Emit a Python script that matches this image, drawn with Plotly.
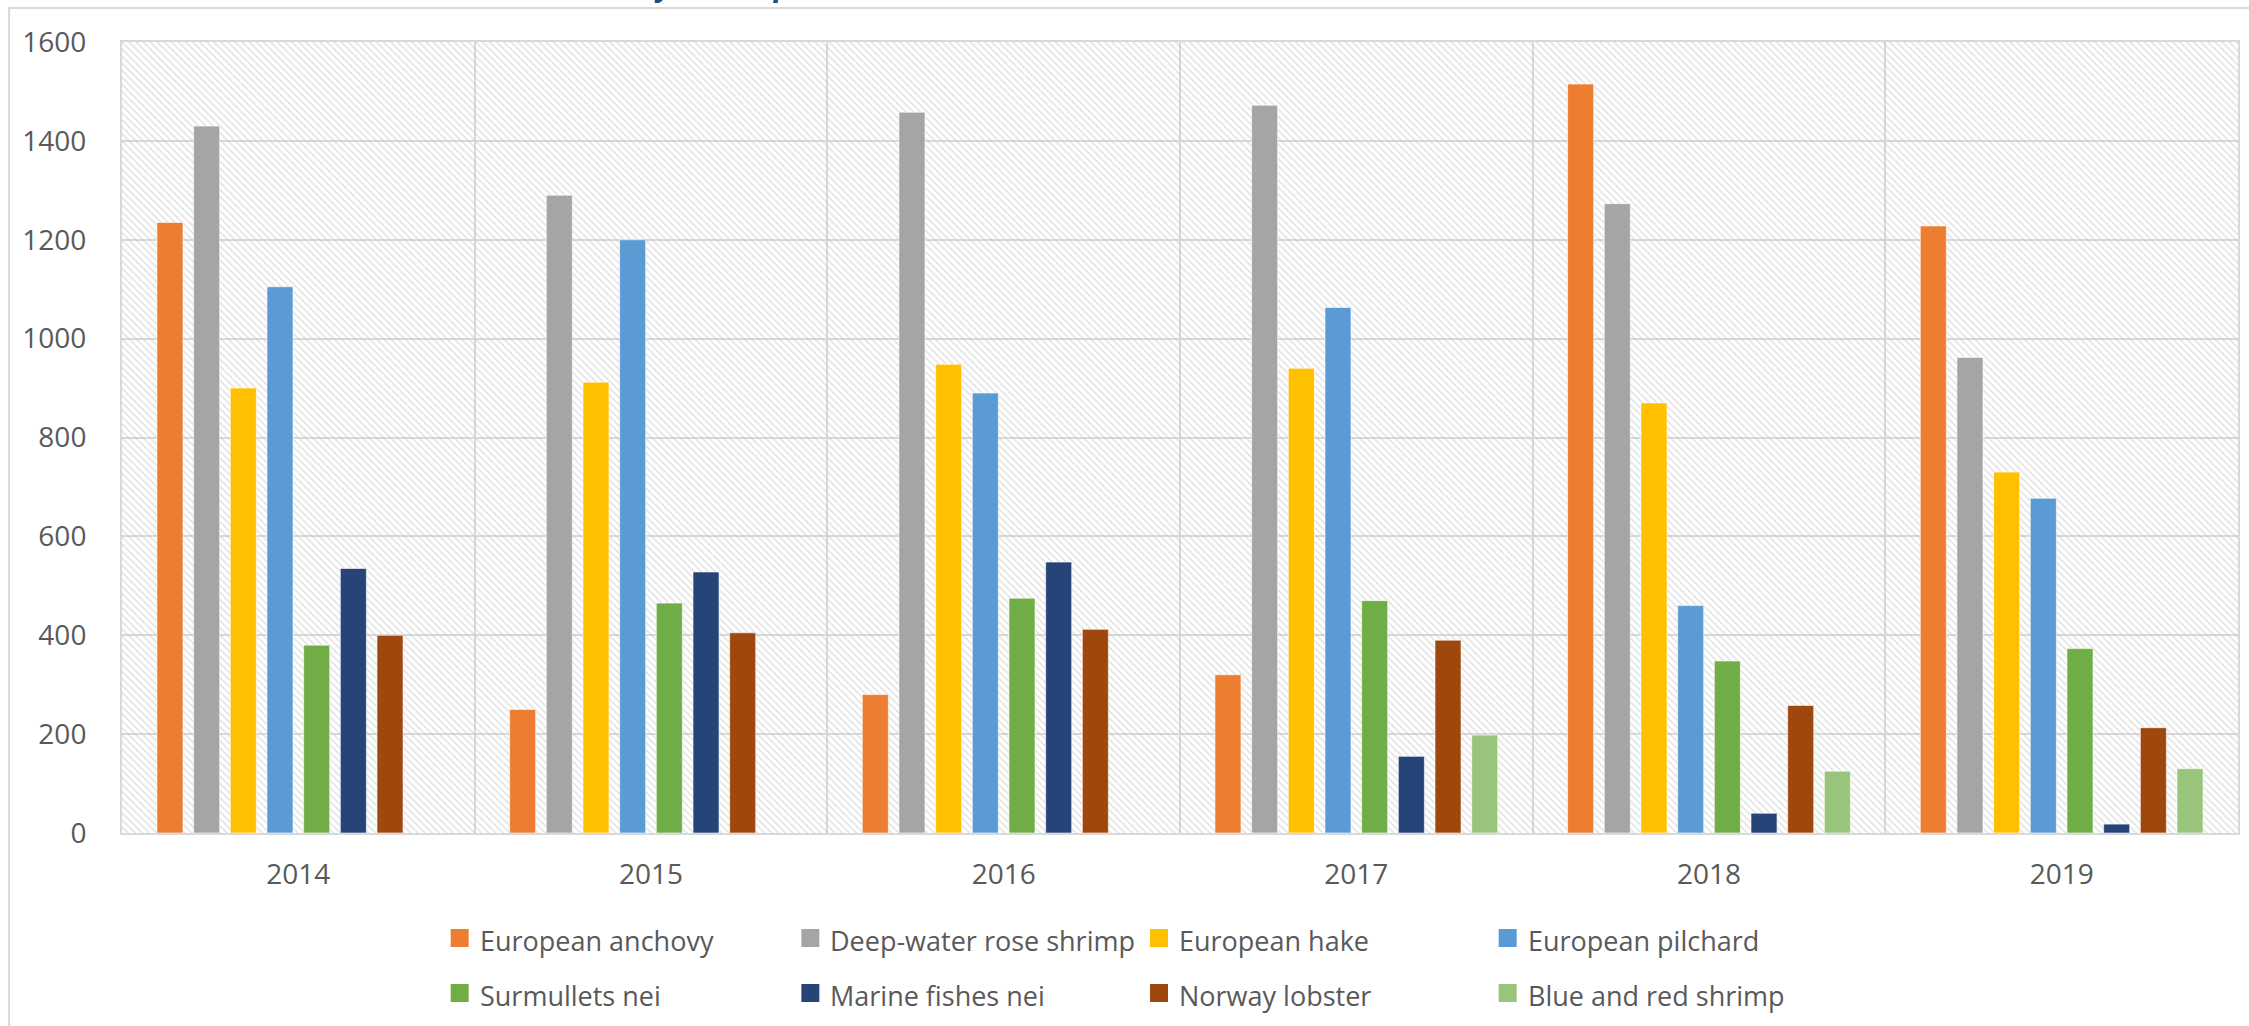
import plotly.graph_objects as go

# ---- data -------------------------------------------------------------
years = ["2014", "2015", "2016", "2017", "2018", "2019"]

species = [
    "European anchovy",
    "Deep-water rose shrimp",
    "European hake",
    "European pilchard",
    "Surmullets nei",
    "Marine fishes nei",
    "Norway lobster",
    "Blue and red shrimp",
]

european_anchovy = [1235, 250, 280, 320, 1515, 1228]
deep_water_rose_shrimp = [1430, 1290, 1458, 1472, 1273, 962]
european_hake = [900, 912, 948, 940, 870, 730]
european_pilchard = [1105, 1200, 890, 1063, 460, 677]
surmullets_nei = [380, 465, 475, 470, 348, 373]
marine_fishes_nei = [535, 528, 548, 155, 40, 18]
norway_lobster = [400, 405, 412, 390, 258, 213]
blue_and_red_shrimp = [None, None, None, 198, 125, 130]

y_ticks = [0, 200, 400, 600, 800, 1000, 1200, 1400, 1600]

series_values = [
    european_anchovy,
    deep_water_rose_shrimp,
    european_hake,
    european_pilchard,
    surmullets_nei,
    marine_fishes_nei,
    norway_lobster,
    blue_and_red_shrimp,
]

colors = ["#ED7D31", "#A5A5A5", "#FFC000", "#5B9BD5",
          "#70AD47", "#264478", "#9E480E", "#98C47B"]

# ---- page geometry (pixels) -------------------------------------------
W, H = 2249, 1026
L, R, T, B = 122, 2240, 42, 833          # plot area edges
PW, PH = R - L, B - T


def px_x(px):
    return (px - L) / PW


def px_y(py):
    return (B - py) / PH


FONT = "Open Sans"
TEXT = "#595959"
GRID = "#d9d9d9"

x_pos = list(range(len(years)))
y_top = y_ticks[-1]
x_range = [-0.5, len(years) - 0.5]

fig = go.Figure()

# hatched plot-area background on the base axes (drawn beneath the bars)
fig.add_trace(go.Scatter(
    x=[x_range[0], x_range[1], x_range[1], x_range[0], x_range[0]],
    y=[0, 0, y_top, y_top, 0],
    mode="lines",
    line=dict(width=0),
    fill="toself",
    fillcolor="rgba(0,0,0,0)",
    fillpattern=dict(shape="\\", fgcolor="#c4c4c4", bgcolor="rgba(255,255,255,0)",
                     size=5, solidity=0.3),
    hoverinfo="skip",
    showlegend=False,
    xaxis="x", yaxis="y",
))

# bars live on an overlaying pair of axes so they sit above the hatching
for name, vals, col in zip(species, series_values, colors):
    fig.add_trace(go.Bar(
        x=x_pos, y=vals, name=name,
        marker=dict(color=col, line=dict(color="rgba(255,255,255,0.6)", width=1)),
        showlegend=False,
        xaxis="x2", yaxis="y2",
    ))

# ---- legend drawn as swatches + labels (2 rows x 4 columns) -----------
col_left = [451, 802, 1151, 1500]
row_mid = [938, 993]
sw = 18
shapes = []
annotations = []
for i, (name, col) in enumerate(zip(species, colors)):
    r, c = divmod(i, 4)
    x0 = col_left[c]
    yc = row_mid[r]
    shapes.append(dict(type="rect", xref="paper", yref="paper",
                       x0=px_x(x0), x1=px_x(x0 + sw),
                       y0=px_y(yc + sw / 2), y1=px_y(yc - sw / 2),
                       fillcolor=col, line=dict(width=0)))
    annotations.append(dict(xref="paper", yref="paper",
                            x=px_x(x0 + 27), y=px_y(yc + 2),
                            xanchor="left", yanchor="middle",
                            text=name, showarrow=False,
                            font=dict(family=FONT, size=27, color=TEXT)))

# chart frame
shapes.append(dict(type="rect", xref="paper", yref="paper",
                   x0=px_x(9), x1=px_x(W + 20), y0=px_y(H + 20), y1=px_y(8),
                   line=dict(color=GRID, width=2), fillcolor="rgba(0,0,0,0)",
                   layer="below"))

# chart title (sits above the frame)
annotations.append(dict(xref="paper", yref="paper",
                        x=px_x(517), y=px_y(7),
                        xanchor="left", yanchor="bottom",
                        text="<b><i>Catches by main species</i></b>",
                        showarrow=False,
                        font=dict(family=FONT, size=30, color="#1F4E79")))

fig.update_layout(
    width=W, height=H,
    margin=dict(l=L, r=W - R, t=T, b=H - B, pad=0),
    paper_bgcolor="white",
    plot_bgcolor="white",
    barmode="group",
    bargap=0.168,
    bargroupgap=0.29,
    shapes=shapes,
    annotations=annotations,
    font=dict(family=FONT, color=TEXT),
    xaxis=dict(
        range=x_range,
        tickmode="array", tickvals=x_pos, ticktext=years,
        tickfont=dict(family=FONT, size=28, color=TEXT),
        ticks="", showgrid=False, zeroline=False,
        ticklabelstandoff=15,
        showline=True, linecolor=GRID, linewidth=2, mirror=True,
        minor=dict(tickmode="array", tickvals=[i + 0.5 for i in x_pos[:-1]],
                   showgrid=True, gridcolor=GRID, gridwidth=2, ticks=""),
    ),
    yaxis=dict(
        range=[0, y_top],
        tickmode="array", tickvals=y_ticks,
        tickfont=dict(family=FONT, size=28, color=TEXT),
        ticks="", showgrid=True, gridcolor=GRID, gridwidth=2, zeroline=False,
        ticklabelstandoff=28,
        showline=True, linecolor=GRID, linewidth=2, mirror=True,
    ),
    xaxis2=dict(overlaying="x", range=x_range, visible=False),
    yaxis2=dict(overlaying="y", range=[0, y_top], visible=False),
)

fig.write_html("out.html")
